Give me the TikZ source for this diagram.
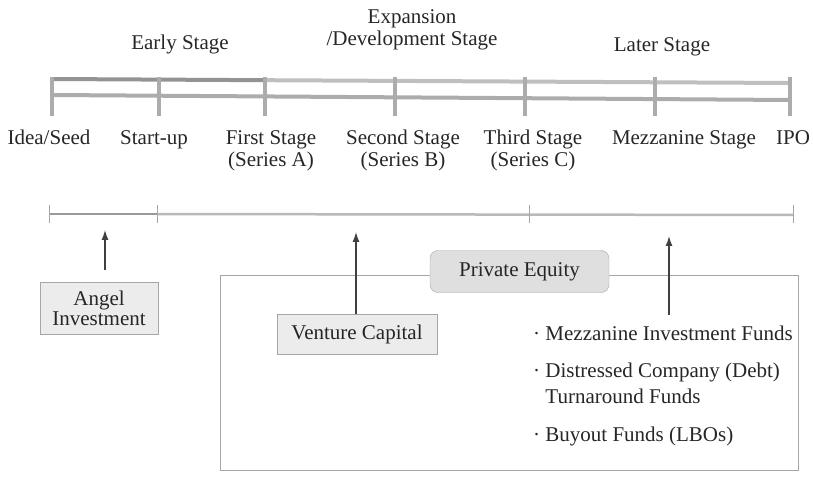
\documentclass[tikz,border=0pt]{standalone}
\usepackage{fontspec}
\setmainfont{Liberation Serif}
\usetikzlibrary{arrows.meta}

\begin{document}
\begin{tikzpicture}[x=1pt,y=-1pt,
    txt/.style={font=\fontsize{21}{22}\selectfont, text=black!85, align=center, inner sep=1pt},
    rail/.style={line width=4pt, draw=gray!65},
    range_line/.style={line width=2.5pt, draw=gray!55},
    fund_box/.style={txt, draw=gray!70, fill=gray!15},
    arr/.style={-{Latex[length=10pt,width=7pt]}, line width=1.3pt, draw=black!75}]
    \useasboundingbox (0,0) rectangle (813,478);
    % stage headings
    \node[txt, anchor=base] (early) at (180,50) {Early Stage};
    \node[txt, anchor=north] (expan) at (412,8) {Expansion\\/Development Stage};
    \node[txt, anchor=base] (later) at (662,52) {Later Stage};
    % ladder
    \draw[rail, draw=gray!85] (52,79) -- (265,80.2);
    \draw[rail, draw=gray!50] (265,80.2) -- (790,83);
    \draw[rail] (52,95) -- (790,100);
    \foreach \px/\nm in {52/p1,159/p2,265/p3,395/p4,525/p5,655/p6,790/p7}
        \draw[rail] (\px,77) -- (\px,116) coordinate (\nm);
    % steps
    \node[txt, anchor=north] (seed) at (49,129) {Idea/Seed};
    \node[txt, anchor=north] (start) at (154,129) {Start-up};
    \node[txt, anchor=north] (serA) at (271,129) {First Stage\\(Series A)};
    \node[txt, anchor=north] (serB) at (403,129) {Second Stage\\(Series B)};
    \node[txt, anchor=north] (serC) at (533,129) {Third Stage\\(Series C)};
    \node[txt, anchor=north] (mezz) at (684,129) {Mezzanine Stage};
    \node[txt, anchor=north] (ipo) at (793,129) {IPO};
    % ranges
    \draw[range_line, draw=gray!80] (49,214) -- (157,214);
    \draw[range_line] (157,214) -- (793,215);
    \foreach \tx in {49,157,529,793}
        \draw[gray!70, line width=0.8pt] (\tx,205) -- (\tx,223);
    % investors
    \draw[gray!70, line width=0.8pt] (220,275) rectangle (798,470);
    \node[fund_box, font=\fontsize{21}{20}\selectfont, minimum width=118pt, minimum height=52pt] (angel) at (99,308) {Angel\\Investment};
    \node[fund_box, minimum width=160pt, minimum height=40pt] (vc) at (357,334) {Venture Capital};
    \node[fund_box, rounded corners=8pt, fill=gray!25, minimum width=179pt, minimum height=42pt] (pe) at (519.5,271.5) {Private Equity};
    \node[txt, anchor=base west] (fund1) at (532,340) {\textperiodcentered\ Mezzanine Investment Funds};
    \node[txt, anchor=north west, align=left, font=\fontsize{21}{26}\selectfont] (fund2) at (532,362) {\textperiodcentered\ Distressed Company (Debt)\\\hphantom{\textperiodcentered\ }Turnaround Funds};
    \node[txt, anchor=base west] (fund3) at (532,441) {\textperiodcentered\ Buyout Funds (LBOs)};
    % arrows
    \coordinate (ang) at (105,230);
    \coordinate (ven) at (356,232);
    \coordinate (lat) at (669,236);
    \coordinate (latfoot) at (669,315);
    \draw[arr] (ang |- angel.north) ++(0,-12) -- (ang);
    \draw[arr] (ven |- vc.north) -- (ven);
    \draw[arr] (latfoot) -- (lat);
\end{tikzpicture}
\end{document}
